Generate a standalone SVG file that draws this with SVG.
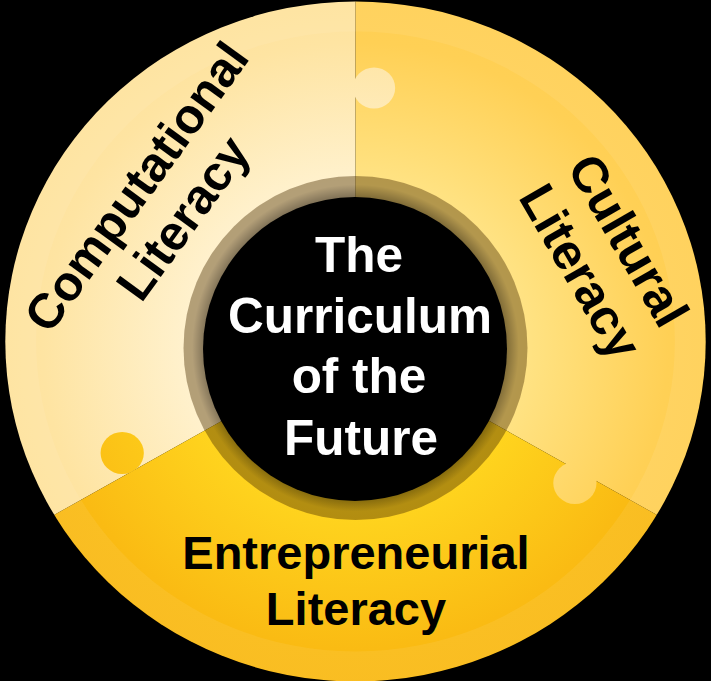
<svg xmlns="http://www.w3.org/2000/svg" width="711" height="681" viewBox="0 0 711 681">
  <defs>
    <radialGradient id="gradPale" gradientUnits="userSpaceOnUse" cx="0" cy="0" r="345">
      <stop offset="0.45" stop-color="#FFF2D0"/>
      <stop offset="0.88" stop-color="#FEE4A2"/>
      <stop offset="1" stop-color="#FEE29C"/>
    </radialGradient>
    <radialGradient id="gradGold" gradientUnits="userSpaceOnUse" cx="0" cy="0" r="345">
      <stop offset="0.45" stop-color="#FFE487"/>
      <stop offset="0.88" stop-color="#FFD055"/>
      <stop offset="1" stop-color="#FFCF52"/>
    </radialGradient>
    <radialGradient id="gradAmber" gradientUnits="userSpaceOnUse" cx="0" cy="0" r="345">
      <stop offset="0.45" stop-color="#FFD61F"/>
      <stop offset="0.88" stop-color="#FABB13"/>
      <stop offset="1" stop-color="#F9B912"/>
    </radialGradient>
    <radialGradient id="gradRingShade" gradientUnits="userSpaceOnUse" cx="355.5" cy="348" r="172">
      <stop offset="0.86" stop-color="#000" stop-opacity="0.35"/>
      <stop offset="0.95" stop-color="#000" stop-opacity="0"/>
    </radialGradient>
    <clipPath id="disc">
      <ellipse cx="0" cy="-4.5" rx="340" ry="340"/>
    </clipPath>
    <!-- one 120° wedge, from 150° round to 270° -->
    <path id="wedge" d="M0,0 L-363.7,210 A420,420 0 0 1 0,-420 Z"/>
    <style>
      .label { font-family: "Liberation Sans", Arial, sans-serif; font-weight: bold; fill: #000; text-anchor: middle; }
      .core { font-family: "Liberation Sans", Arial, sans-serif; font-weight: bold; fill: #fff; font-size: 49.5px; text-anchor: middle; }
    </style>
  </defs>

  <rect width="711" height="681" fill="#000"/>

  <!-- outer disc, slightly wider than tall -->
  <g id="disc-segments" transform="translate(355.5 346) scale(1.03 1)">
    <g clip-path="url(#disc)">
      <g id="seg-computational"><use href="#wedge" fill="url(#gradPale)"/></g>
      <g id="seg-cultural" transform="rotate(120)"><use href="#wedge" fill="url(#gradGold)"/></g>
      <g id="seg-entrepreneurial" transform="rotate(240)"><use href="#wedge" fill="url(#gradAmber)"/></g>
      <!-- puzzle tabs, each pushed into the next wedge clockwise -->
      <circle id="tab-computational" cx="18" cy="-258" r="20.5" fill="url(#gradPale)"/>
      <circle id="tab-cultural" cx="213" cy="137" r="21" fill="url(#gradGold)"/>
      <circle id="tab-entrepreneurial" cx="-226.5" cy="107" r="21" fill="url(#gradAmber)"/>
      <!-- faint lighter rim band -->
      <path d="M0,-344.5 A340,340 0 1 1 0,335.5 A340,340 0 1 1 0,-344.5 Z M0,-314.5 A310,310 0 1 0 0,305.5 A310,310 0 1 0 0,-314.5 Z" fill="#fff" fill-opacity="0.07" fill-rule="evenodd"/>
    </g>
  </g>

  <!-- translucent ring and black core -->
  <g id="core">
    <circle cx="355.5" cy="348" r="172" fill="#4A2E00" fill-opacity="0.42"/>
    <circle cx="355.5" cy="348" r="172" fill="url(#gradRingShade)"/>
    <circle cx="355" cy="349" r="152" fill="#000"/>
    <text class="core" x="359" y="272">The</text>
    <text class="core" x="360" y="333">Curriculum</text>
    <text class="core" x="359" y="393">of the</text>
    <text class="core" x="361" y="455">Future</text>
  </g>

  <g id="label-computational" transform="translate(355.5 346) rotate(-54)">
    <text class="label" font-size="49" x="0" y="-254">Computational</text>
    <text class="label" font-size="49" x="2" y="-198">Literacy</text>
  </g>

  <g id="label-cultural" transform="translate(355.5 346) rotate(60)">
    <text class="label" font-size="50" x="45" y="-272">Cultural</text>
    <text class="label" font-size="50" x="48" y="-215">Literacy</text>
  </g>

  <g id="label-entrepreneurial">
    <text class="label" font-size="47" x="356" y="569">Entrepreneurial</text>
    <text class="label" font-size="47" x="356" y="625">Literacy</text>
  </g>
</svg>
